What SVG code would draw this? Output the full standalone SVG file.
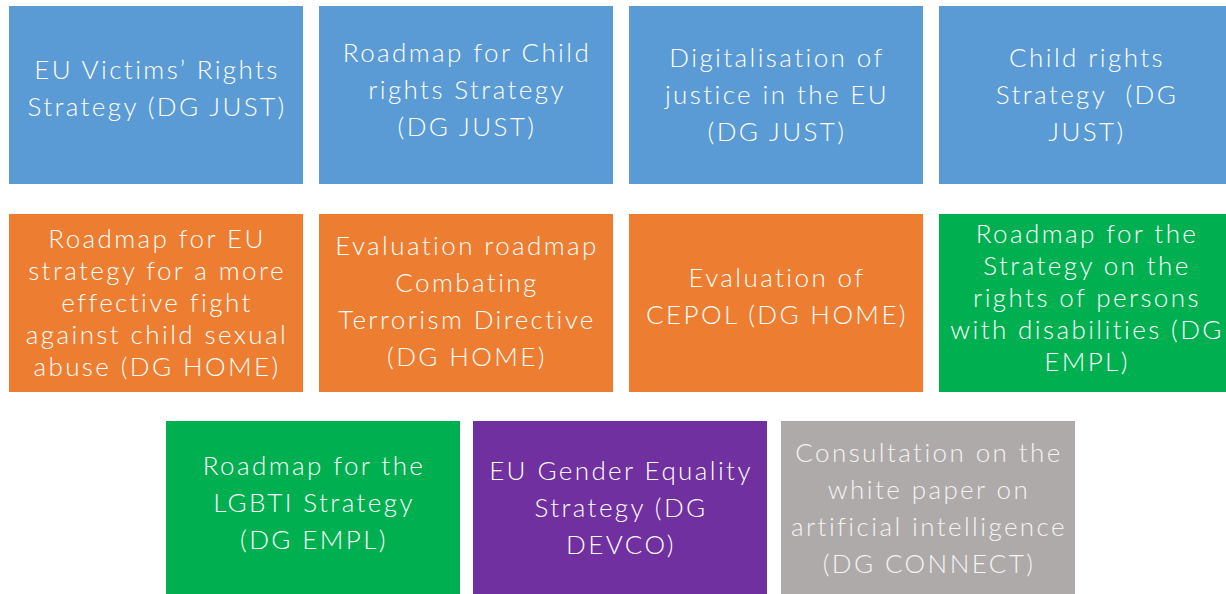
<svg xmlns="http://www.w3.org/2000/svg" width="1226" height="594" viewBox="0 0 1226 594">
<style>
text{font-family:Lato,"Open Sans","Liberation Sans",sans-serif;font-weight:300;font-size:26px;letter-spacing:2.4px;fill:#fff;text-anchor:middle}
.b{fill:#5B9BD5}.o{fill:#ED7D31}.g{fill:#00B050}.p{fill:#7030A0}.y{fill:#AEAAAA}
.y2{fill:#F4F4F4}
</style>
<rect width="1226" height="594" fill="#fff"/>
<g id="n1"><rect class="b" x="9" y="6" width="294" height="178"/><text x="157" y="79">EU Victims’ Rights</text><text x="157" y="116">Strategy (DG JUST)</text></g>
<g id="n2"><rect class="b" x="319" y="6" width="294" height="178"/><text x="467" y="62">Roadmap for Child</text><text x="467" y="99">rights Strategy</text><text x="467" y="136">(DG JUST)</text></g>
<g id="n3"><rect class="b" x="629" y="6" width="294" height="178"/><text x="777" y="67">Digitalisation of</text><text x="777" y="104">justice in the EU</text><text x="777" y="141">(DG JUST)</text></g>
<g id="n4"><rect class="b" x="939" y="6" width="294" height="178"/><text x="1087" y="67">Child rights</text><text x="1087" y="104" xml:space="preserve">Strategy  (DG</text><text x="1087" y="141">JUST)</text></g>
<g id="n5"><rect class="o" x="9" y="214" width="294" height="178"/><text x="157" y="248">Roadmap for EU</text><text x="157" y="280">strategy for a more</text><text x="157" y="312">effective fight</text><text x="157" y="344">against child sexual</text><text x="157" y="376">abuse (DG HOME)</text></g>
<g id="n6"><rect class="o" x="319" y="214" width="294" height="178"/><text x="467" y="255">Evaluation roadmap</text><text x="467" y="292">Combating</text><text x="467" y="329">Terrorism Directive</text><text x="467" y="366">(DG HOME)</text></g>
<g id="n7"><rect class="o" x="629" y="214" width="294" height="178"/><text x="777" y="287">Evaluation of</text><text x="777" y="324">CEPOL (DG HOME)</text></g>
<g id="n8"><rect class="g" x="939" y="214" width="294" height="178"/><text x="1087" y="243">Roadmap for the</text><text x="1087" y="275">Strategy on the</text><text x="1087" y="307">rights of persons</text><text x="1087" y="339">with disabilities (DG</text><text x="1087" y="371">EMPL)</text></g>
<g id="n9"><rect class="g" x="166" y="421" width="294" height="178"/><text x="314" y="475">Roadmap for the</text><text x="314" y="512">LGBTI Strategy</text><text x="314" y="549">(DG EMPL)</text></g>
<g id="n10"><rect class="p" x="473" y="421" width="294" height="178"/><text x="621" y="480">EU Gender Equality</text><text x="621" y="517">Strategy (DG</text><text x="621" y="554">DEVCO)</text></g>
<g id="n11"><rect class="y" x="781" y="421" width="294" height="178"/><text class="y2" x="929" y="462">Consultation on the</text><text class="y2" x="929" y="499">white paper on</text><text class="y2" x="929" y="536">artificial intelligence</text><text class="y2" x="929" y="573">(DG CONNECT)</text></g>
<g id="connectors"/>
</svg>
